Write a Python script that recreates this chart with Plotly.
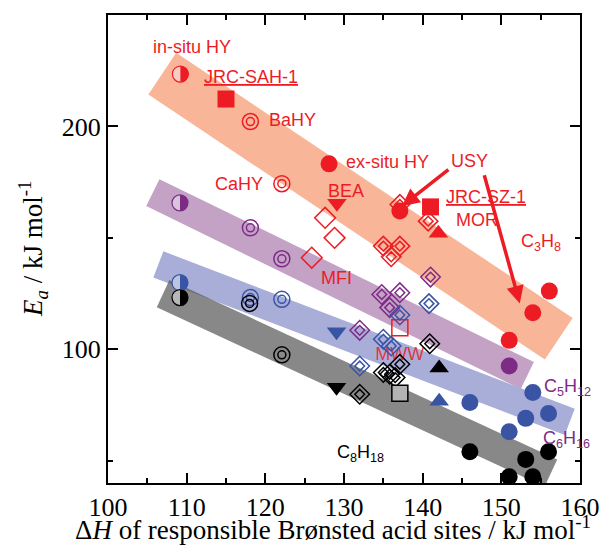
import plotly.graph_objects as go

# ---------------- data ----------------
# correlation bands (centre line end points, data units)
band_x0 = [106.9, 105.7, 106.4, 107.0]
band_y0 = [223.7, 170.3, 138.1, 125.0]
band_x1 = [157.3, 153.3, 158.7, 156.3]
band_y1 = [104.7, 88.2, 67.4, 44.4]

# C3H8 (red)
red_half_x, red_half_y = [109.2], [223.5]
red_dcirc_x, red_dcirc_y = [118.1, 122.1], [202.2, 174.3]
red_circ_x = [128.1, 137.1, 151.0, 154.0, 156.1]
red_circ_y = [183.2, 162.0, 104.0, 116.4, 126.1]
red_sq_x, red_sq_y = [115.0, 141.0], [212.3, 163.9]
red_tdn_x, red_tdn_y = [129.1], [165.5]
red_tup_x, red_tup_y = [142.0], [152.1]
red_diam_x, red_diam_y = [127.6, 128.8, 125.9], [159.0, 150.0, 141.1]
red_ddiam_x = [137.1, 140.7, 135.0, 137.1, 136.0]
red_ddiam_y = [165.0, 157.5, 146.3, 146.3, 141.5]
red_osq_x, red_osq_y = [137.1], [109.7]

# purple
pur_half_x, pur_half_y = [109.15], [165.7]
pur_dcirc_x, pur_dcirc_y = [118.1, 122.1], [154.5, 140.6]
pur_circ_x, pur_circ_y = [151.0], [92.5]
pur_ddiam_x = [141.0, 134.8, 137.1, 135.8, 132.0]
pur_ddiam_y = [132.4, 124.6, 125.4, 118.7, 108.5]

# blue
blu_half_x, blu_half_y = [109.15], [129.9]
blu_dcirc_x, blu_dcirc_y = [118.1, 122.1], [123.2, 122.4]
blu_tdn_x, blu_tdn_y = [129.05], [107.9]
blu_tup_x, blu_tup_y = [142.1], [76.7]
blu_circ_x = [146.0, 151.0, 153.1, 154.0, 156.0]
blu_circ_y = [76.1, 63.0, 69.0, 80.6, 71.2]
blu_ddiam_x = [140.8, 137.1, 135.0, 136.0, 132.0]
blu_ddiam_y = [120.5, 115.4, 104.5, 101.5, 92.5]

# black (C8H18)
blk_half_x, blk_half_y = [109.15], [123.2]
blk_dcirc_x, blk_dcirc_y = [118.0, 122.1], [120.6, 97.5]
blk_tdn_x, blk_tdn_y = [129.05], [83.0]
blk_tup_x, blk_tup_y = [142.1], [91.6]
blk_gsq_x, blk_gsq_y = [137.1], [80.3]
blk_circ_x = [146.0, 151.0, 153.1, 154.0, 156.0]
blk_circ_y = [54.0, 42.8, 50.6, 42.8, 54.0]
blk_ddiam_x = [140.9, 137.1, 135.0, 135.8, 136.5, 132.0]
blk_ddiam_y = [102.5, 93.3, 89.6, 88.8, 87.3, 79.8]

x_ticks = [100, 110, 120, 130, 140, 150, 160]
y_ticks = [100, 200]

# ---------------- styles ----------------
RED = '#ED1C24'
PUR = '#7E2B86'
BLU = '#3A54A4'
BLK = '#000000'
band_colors = ['#F9B598', '#C3A2C6', '#A8AED8', 'rgba(85,85,85,0.7)']
band_widths = [50, 30, 28, 30]

fig = go.Figure()

for i in [0, 1, 2, 3]:
    fig.add_trace(go.Scatter(x=[band_x0[i], band_x1[i]], y=[band_y0[i], band_y1[i]],
                             mode='lines', line=dict(color=band_colors[i], width=band_widths[i]),
                             hoverinfo='skip'))

# MWW label sits beneath the markers
fig.add_trace(go.Scatter(x=[137.1], y=[97.3], mode='text', text=['MWW'],
                         textfont=dict(family='Liberation Sans, Arial', size=18,
                                       color='rgba(237,28,36,0.85)'),
                         textposition='middle center', hoverinfo='skip'))


def mk(x, y, symbol, size, color, fill=None, lw=1.5):
    fig.add_trace(go.Scatter(
        x=x, y=y, mode='markers',
        marker=dict(symbol=symbol, size=size,
                    color=fill if fill is not None else color,
                    line=dict(color=color, width=lw))))


def dcirc(x, y, c):
    mk(x, y, 'circle-open', 16, c)
    mk(x, y, 'circle-open', 8, c)


def ddiam(x, y, c):
    mk(x, y, 'diamond-open', 15, c)
    mk(x, y, 'diamond-open', 7.5, c)


shapes = []


def half(x, y, c, light):
    mk(x, y, 'circle', 16, c, fill=light, lw=1.2)
    r = 8
    k = 0.5523 * r
    for xi, yi in zip(x, y):
        shapes.append(dict(type='path', xref='x', yref='y', xsizemode='pixel', ysizemode='pixel',
                           xanchor=xi, yanchor=yi,
                           path=f'M 0,{-r} C {k:.2f},{-r} {r},{-k:.2f} {r},0 C {r},{k:.2f} {k:.2f},{r} 0,{r} Z',
                           fillcolor=c, line=dict(width=0)))


# red
mk(red_diam_x, red_diam_y, 'diamond-open', 16, RED)
ddiam(red_ddiam_x, red_ddiam_y, RED)
half(red_half_x, red_half_y, RED, '#F8CCC6')
dcirc(red_dcirc_x, red_dcirc_y, RED)
mk(red_circ_x, red_circ_y, 'circle', 17, RED, lw=0)
mk(red_sq_x, red_sq_y, 'square', 17, RED, lw=0)
mk(red_tdn_x, red_tdn_y, 'triangle-down', 17, RED, lw=0)
mk(red_tup_x, red_tup_y, 'triangle-up', 17, RED, lw=0)
mk(red_osq_x, red_osq_y, 'square-open', 16, RED)

# purple
ddiam(pur_ddiam_x, pur_ddiam_y, PUR)
half(pur_half_x, pur_half_y, PUR, '#D9C4DD')
dcirc(pur_dcirc_x, pur_dcirc_y, PUR)
mk(pur_circ_x, pur_circ_y, 'circle', 17, PUR, lw=0)

# blue
ddiam(blu_ddiam_x, blu_ddiam_y, BLU)
half(blu_half_x, blu_half_y, BLU, '#BCC4E4')
dcirc(blu_dcirc_x, blu_dcirc_y, BLU)
mk(blu_circ_x, blu_circ_y, 'circle', 17, BLU, lw=0)
mk(blu_tdn_x, blu_tdn_y, 'triangle-down', 17, BLU, lw=0)
mk(blu_tup_x, blu_tup_y, 'triangle-up', 17, BLU, lw=0)

# black
ddiam(blk_ddiam_x, blk_ddiam_y, BLK)
half(blk_half_x, blk_half_y, BLK, '#B8B8B8')
dcirc(blk_dcirc_x, blk_dcirc_y, BLK)
mk(blk_circ_x, blk_circ_y, 'circle', 17, BLK, lw=0)
mk(blk_tdn_x, blk_tdn_y, 'triangle-down', 17, BLK, lw=0)
mk(blk_tup_x, blk_tup_y, 'triangle-up', 17, BLK, lw=0)
mk(blk_gsq_x, blk_gsq_y, 'square', 16, BLK, fill='#B3B3B3', lw=1.5)

# ---------------- labels ----------------
labels = [
    ('in-situ HY', 110.67, 235.7, RED),
    ('<u>JRC-SAH-1</u>', 118.17, 222.3, RED),
    ('BaHY', 123.4, 203.0, RED),
    ('CaHY', 116.6, 174.1, RED),
    ('ex-situ HY', 135.5, 184.0, RED),
    ('BEA', 130.2, 171.0, RED),
    ('USY', 145.9, 184.6, RED),
    ('<u>JRC-SZ-1</u>', 148.0, 168.3, RED),
    ('MOR', 146.9, 158.2, RED),
    ('C<sub>3</sub>H<sub>8</sub>', 155.1, 147.9, RED),
    ('MFI', 129.1, 131.8, RED),
    ('C<sub>5</sub>H<sub>12</sub>', 158.4, 83.0, PUR),
    ('C<sub>6</sub>H<sub>16</sub>', 158.3, 59.7, PUR),
    ('C<sub>8</sub>H<sub>18</sub>', 132.1, 53.4, BLK),
]
annotations = []
for t, x, y, c in labels:
    annotations.append(dict(text=t, x=x, y=y, xref='x', yref='y', showarrow=False,
                            font=dict(family='Liberation Sans, Arial', size=18, color=c),
                            xanchor='center', yanchor='middle'))

# USY arrows
arrow_tail_x = [143.46, 147.78]
arrow_tail_y = [181.1, 178.8]
arrow_head_x = [137.36, 152.35]
arrow_head_y = [164.2, 120.6]
for tx, ty, hx, hy in zip(arrow_tail_x, arrow_tail_y, arrow_head_x, arrow_head_y):
    annotations.append(dict(x=hx, y=hy, ax=tx, ay=ty, xref='x', yref='y', axref='x', ayref='y',
                            text='', showarrow=True, arrowhead=2, arrowsize=1.0,
                            arrowwidth=3.5, arrowcolor=RED))

# axis titles
serif = 'Liberation Serif, Times New Roman'
annotations.append(dict(text='Δ<i>H</i> of responsible Brønsted acid sites / kJ mol<sup>-1</sup>',
                        x=0.477, y=-0.097, xref='paper', yref='paper', showarrow=False,
                        font=dict(family=serif, size=27, color='black'),
                        xanchor='center', yanchor='middle'))
annotations.append(dict(text='<i>E<sub>a</sub></i> / kJ mol<sup>-1</sup>',
                        x=-0.159, y=0.5, xref='paper', yref='paper', showarrow=False,
                        textangle=-90, font=dict(family=serif, size=27, color='black'),
                        xanchor='center', yanchor='middle'))

axis_common = dict(showgrid=False, zeroline=False, showline=True, linecolor='black', linewidth=2,
                   mirror='ticks', ticks='inside', ticklen=10, tickwidth=2, tickcolor='black',
                   automargin=False,
                   tickfont=dict(family=serif, size=26, color='black'))

# page body has an 8 px margin: shift the figure so the plot lands where the reference has it
fig.update_layout(
    width=604, height=542,
    margin=dict(l=100, r=32, t=7, b=67),
    paper_bgcolor='white', plot_bgcolor='white',
    showlegend=False,
    shapes=shapes,
    annotations=annotations,
    xaxis=dict(range=[100, 160], tickmode='array', tickvals=x_ticks,
               minor=dict(dtick=5, tick0=100, ticks='inside', ticklen=5, tickwidth=2, tickcolor='black'),
               **axis_common),
    yaxis=dict(range=[40, 250], tickmode='array', tickvals=y_ticks,
               minor=dict(dtick=50, tick0=0, ticks='inside', ticklen=5, tickwidth=2, tickcolor='black'),
               **axis_common),
)

fig.write_html('out.html')
